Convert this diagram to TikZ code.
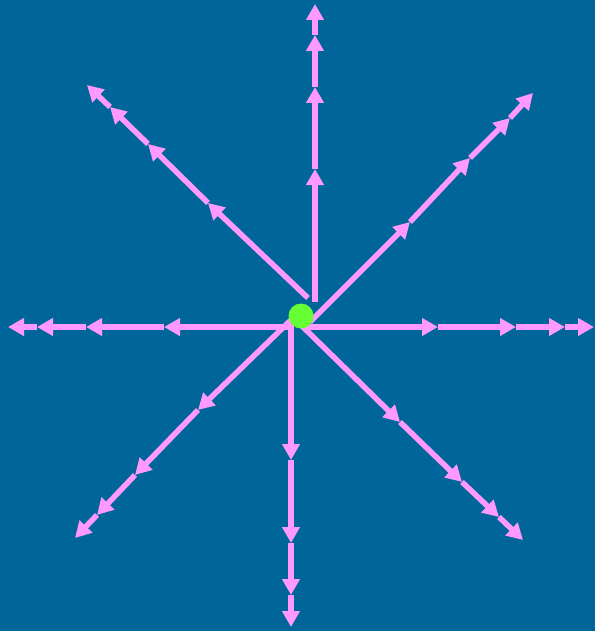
\documentclass[tikz,border=0pt]{standalone}
\usetikzlibrary{arrows.meta}
\definecolor{bg}{HTML}{006699}
\definecolor{fieldpink}{HTML}{FF99FF}
\definecolor{charge}{HTML}{66FF33}
\begin{document}
\begin{tikzpicture}[x=1pt,y=-1pt,
  seg/.style={draw=fieldpink,line width=5.5pt,
    -{Triangle[length=16pt,width=17pt,fill=fieldpink]}}]
\fill[bg] (0,0) rectangle (595,631);
\useasboundingbox (0,0) rectangle (595,631);
% up
\coordinate (U0) at (315,302);
\coordinate (U1) at (315,169);
\coordinate (U2) at (315,87);
\coordinate (U3) at (315,35);
\coordinate (U4) at (315,4);
% down
\coordinate (D0) at (291,324);
\coordinate (D1) at (291,460);
\coordinate (D2) at (291,543);
\coordinate (D3) at (291,595);
\coordinate (D4) at (291,627);
% left
\coordinate (L0) at (294,327);
\coordinate (L1) at (164,327);
\coordinate (L2) at (86,327);
\coordinate (L3) at (37,327);
\coordinate (L4) at (8,327);
% right
\coordinate (R0) at (306,327);
\coordinate (R1) at (438,327);
\coordinate (R2) at (516,327);
\coordinate (R3) at (565,327);
\coordinate (R4) at (594,327);
% north-west
\coordinate (NW0) at (308,298);
\coordinate (NW1) at (208,203);
\coordinate (NW2) at (148,144);
\coordinate (NW3) at (110,107);
\coordinate (NW4) at (87,85);
% north-east
\coordinate (NE0) at (310,322);
\coordinate (NE1) at (410,222);
\coordinate (NE2) at (470,158);
\coordinate (NE3) at (510,118);
\coordinate (NE4) at (533,93);
% south-west
\coordinate (SW0) at (293,318);
\coordinate (SW1) at (198,410);
\coordinate (SW2) at (135,475);
\coordinate (SW3) at (97,515);
\coordinate (SW4) at (75,538);
% south-east
\coordinate (SE0) at (302,326);
\coordinate (SE1) at (400,422);
\coordinate (SE2) at (462,482);
\coordinate (SE3) at (499,517);
\coordinate (SE4) at (523,540);
\foreach \d in {U,D,L,R,NW,NE,SW,SE}{
  \draw[seg] (\d0) -- (\d1);
  \draw[seg] (\d1) -- (\d2);
  \draw[seg] (\d2) -- (\d3);
  \draw[seg] (\d3) -- (\d4);
}
\node[circle,fill=charge,inner sep=0pt,minimum size=25pt] (q) at (301,316) {};
\end{tikzpicture}
\end{document}
